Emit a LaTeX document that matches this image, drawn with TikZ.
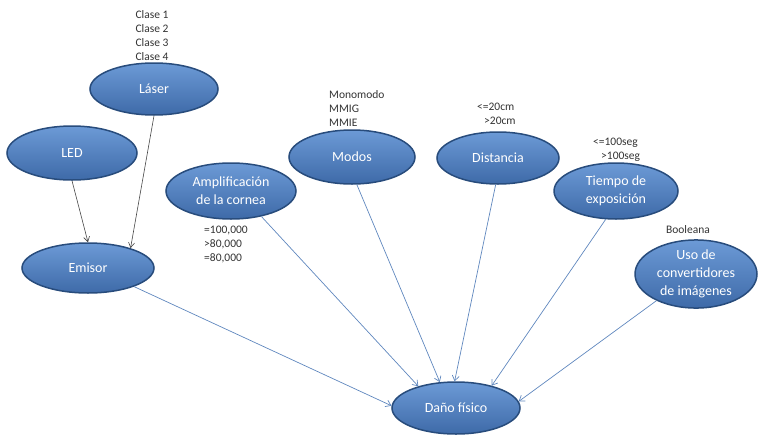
\documentclass[tikz,border=0pt]{standalone}
\usepackage{fontspec}
\setmainfont{Carlito}
\usepackage{tikz}
\usetikzlibrary{shapes.geometric, arrows.meta}

\definecolor{factortop}{RGB}{108,154,214}
\definecolor{factorbot}{RGB}{62,106,168}
\definecolor{factorline}{RGB}{40,76,124}
\definecolor{linkblue}{RGB}{95,135,190}
\definecolor{linkgray}{RGB}{70,70,70}

\tikzset{
    factor/.style={ellipse, draw=factorline, line width=1.5pt,
        top color=factortop, bottom color=factorbot,
        text=white, font=\fontsize{14}{18}\selectfont, align=center,
        inner sep=0pt, minimum width=128pt, minimum height=52pt},
    note/.style={font=\fontsize{11.5}{14}\selectfont, text=black!80, inner sep=0pt},
    link/.style={-{Straight Barb[length=5pt,width=7pt]}, linkblue, line width=0.7pt},
    sublink/.style={-{Straight Barb[length=5pt,width=6pt]}, linkgray, line width=0.6pt}
}

\begin{document}
\begin{tikzpicture}[x=1pt, y=-1pt]
    \useasboundingbox (0,0) rectangle (758,434);

    % factores
    \node[factor] (laser) at (154,89) {Láser};
    \node[factor, minimum width=130pt, minimum height=54pt] (led) at (72,153) {LED};
    \node[factor, minimum width=132pt, minimum height=50pt] (emisor) at (88,268) {Emisor};
    \node[factor, minimum width=130pt, minimum height=56pt] (amp) at (231,191) {Amplificación\\de la cornea};
    \node[factor, minimum width=126pt, minimum height=54pt] (modos) at (352,157) {Modos};
    \node[factor, minimum width=122pt] (dist) at (498,158) {Distancia};
    \node[factor, minimum width=124pt, minimum height=56pt] (tiempo) at (616,191) {Tiempo de\\exposición};
    \node[factor, minimum width=122pt, minimum height=66pt] (uso) at (696,274) {Uso de\\convertidores\\de imágenes};
    \node[factor] (dano) at (456,408) {Daño físico};

    % valores
    \node[note, align=center] (clases) at (152,36) {Clase 1\\Clase 2\\Clase 3\\Clase 4};
    \node[note, align=left, anchor=west] (valmodos) at (329,109) {Monomodo\\MMIG\\MMIE};
    \node[note, align=left, anchor=west] (valdist) at (477,114) {<=20cm\\\hspace*{7pt}>20cm};
    \node[note, align=left, anchor=west] (valtiempo) at (593,150) {<=100seg\\\hspace*{8pt}>100seg};
    \node[note] (valuso) at (688,230) {Booleana};
    \node[note, align=left, anchor=west] (valamp) at (204,245) {=100,000\\>80,000\\=80,000};

    % relaciones
    \draw[sublink] (led.south) -- (emisor.north);
    \draw[sublink] (laser.south) -- (emisor.25);
    \draw[link] (emisor.-22) -- (dano.178);
    \draw[link] (amp.-40) -- (dano.150);
    \draw[link] (modos.-80) -- (dano.122);
    \draw[link] (dist.-95) -- (dano.93);
    \draw[link] (tiempo.-110) -- (dano.32);
    \draw[link] (uso.214) -- (dano.6);
\end{tikzpicture}
\end{document}
